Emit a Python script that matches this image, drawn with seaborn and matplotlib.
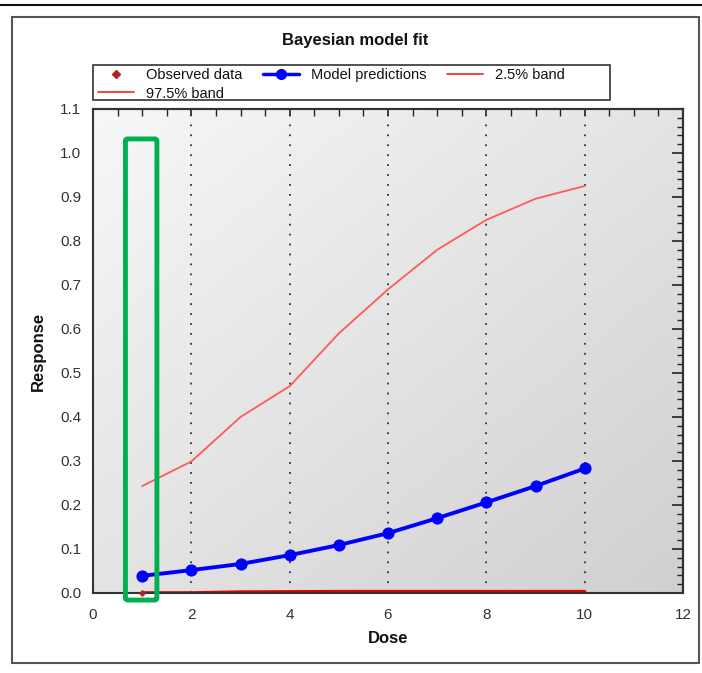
import numpy as np
import pandas as pd
import matplotlib
matplotlib.use("Agg")
import matplotlib.pyplot as plt
import seaborn as sns
from matplotlib.patches import Rectangle, FancyBboxPatch
from matplotlib.lines import Line2D
from matplotlib.ticker import MultipleLocator, NullFormatter

sns.set_theme(style="white")
plt.rcParams['font.family'] = ['Liberation Sans', 'DejaVu Sans']

dose = [1, 2, 3, 4, 5, 6, 7, 8, 9, 10]
model_pred = [0.039, 0.052, 0.066, 0.086, 0.109, 0.136, 0.170, 0.206, 0.243, 0.283]
band_975 = [0.243, 0.299, 0.400, 0.470, 0.590, 0.690, 0.780, 0.848, 0.896, 0.925]
band_025 = [0.0, 0.0, 0.002, 0.0025, 0.003, 0.003, 0.003, 0.003, 0.003, 0.003]
obs_dose = [1]
obs_resp = [0.0]

W, H = 702, 673
fig = plt.figure(figsize=(W / 100, H / 100), dpi=100)
fig.patch.set_facecolor("white")

def px(x0, y0, x1, y1):
    return [x0 / W, 1 - y1 / H, (x1 - x0) / W, (y1 - y0) / H]

ax = fig.add_axes(px(93, 109, 683, 593))

# diagonal gradient background: light top-left, darker bottom-right
gx, gy = np.meshgrid(np.linspace(0, 1, 200), np.linspace(0, 1, 200))
grad = (gx + (1 - gy)) / 2.0
cmap = matplotlib.colors.LinearSegmentedColormap.from_list("g", ["#f7f7f7", "#d0d0d0"])
ax.imshow(grad, cmap=cmap, extent=[0, 12, 0, 1.1], origin="lower", aspect="auto",
          zorder=0, vmin=0, vmax=1)
ax.set_xlim(0, 12)
ax.set_ylim(0, 1.1)

for xv in [2, 4, 6, 8, 10]:
    ax.axvline(xv, color="#333333", linestyle=(0, (1, 4.5)), linewidth=1.3, zorder=1)

df_model = pd.DataFrame({"Dose": dose, "Response": model_pred})
df_975 = pd.DataFrame({"Dose": dose, "Response": band_975})
df_025 = pd.DataFrame({"Dose": dose, "Response": band_025})
df_obs = pd.DataFrame({"Dose": obs_dose, "Response": obs_resp})

sns.lineplot(data=df_975, x="Dose", y="Response", ax=ax, color="#ff5a5a", linewidth=1.3, zorder=3)
sns.lineplot(data=df_025, x="Dose", y="Response", ax=ax, color="#dd0000", linewidth=2.6, zorder=2)
sns.lineplot(data=df_model, x="Dose", y="Response", ax=ax, color="#0000ff", linewidth=2.8,
             marker="o", markersize=8, markeredgecolor="#0000ff", zorder=4)
sns.scatterplot(data=df_obs, x="Dose", y="Response", ax=ax, color="#b22222", marker="D", s=12,
                edgecolor="#b22222", zorder=5, clip_on=False)

ax.set_xticks([0, 2, 4, 6, 8, 10, 12])
ax.set_yticks(np.round(np.arange(0, 1.11, 0.1), 1))
ax.set_yticklabels([f"{v:.1f}" for v in np.arange(0, 1.11, 0.1)])
ax.xaxis.set_minor_locator(MultipleLocator(0.5))
ax.yaxis.set_minor_locator(MultipleLocator(0.02))
ax.tick_params(axis="both", which="major", direction="inout", length=10, width=1.2, color="#222222",
               labelsize=11, labelcolor="#333333", top=False, right=False)
ax.tick_params(axis="both", which="minor", direction="inout", length=6, width=1.0, color="#222222",
               top=False, right=False)
ax.tick_params(axis="x", which="both", pad=6)
for s in ax.spines.values():
    s.set_color("#333333")
    s.set_linewidth(1.5)
    s.set_zorder(2.5)
ax.set_xlabel("Dose", fontsize=12, fontweight="bold", labelpad=6, color="#111111")
ax.set_ylabel("Response", fontsize=12, fontweight="bold", labelpad=10, color="#111111")

# inward ticks on right and top
secy = ax.secondary_yaxis("right")
secy.set_yticks(np.round(np.arange(0, 1.11, 0.1), 1))
secy.yaxis.set_minor_locator(MultipleLocator(0.02))
secy.yaxis.set_major_formatter(NullFormatter())
secy.tick_params(which="major", direction="in", length=8, width=1.2, color="#222222")
secy.tick_params(which="minor", direction="in", length=4, width=1.0, color="#222222")
secy.spines["right"].set_color("#333333")
secy.spines["right"].set_linewidth(1.5)
secx = ax.secondary_xaxis("top")
secx.set_xticks([0, 2, 4, 6, 8, 10, 12])
secx.xaxis.set_minor_locator(MultipleLocator(0.5))
secx.xaxis.set_major_formatter(NullFormatter())
secx.tick_params(which="major", direction="in", length=5, width=1.2, color="#222222")
secx.tick_params(which="minor", direction="in", length=5, width=1.0, color="#222222")
secx.spines["top"].set_color("#333333")
secx.spines["top"].set_linewidth(1.5)

fig.text(355 / W, 1 - 40 / H, "Bayesian model fit", ha="center", va="center",
         fontsize=12, fontweight="bold", color="#111111")

h_obs = Line2D([], [], color="#b22222", marker="D", markersize=4, linestyle="none")
h_model = Line2D([], [], color="#0000ff", marker="o", markersize=7, linewidth=2.5)
h_025 = Line2D([], [], color="#ff3030", linewidth=1.3)
h_975 = Line2D([], [], color="#ff3030", linewidth=1.3)
handles = [h_obs, h_975, h_model, h_025]
labels = ["Observed data", "97.5% band", "Model predictions", "2.5% band"]
leg = fig.legend(handles, labels, loc="upper left",
                 bbox_to_anchor=(94 / W, 1 - 64.5 / H), ncol=3,
                 frameon=False, fontsize=10.5, handlelength=2.5, handletextpad=0.8,
                 columnspacing=1.4, borderpad=0.25, labelspacing=0.3, borderaxespad=0)
for t in leg.get_texts():
    t.set_color("#111111")
# legend frame box
fig.add_artist(Rectangle((93 / W, 1 - 100 / H), (610 - 93) / W, (100 - 65) / H, fill=False,
                         edgecolor="#333333", linewidth=1.2, transform=fig.transFigure))

# outer frames
fig.add_artist(Line2D([0, 1], [1 - 5 / H, 1 - 5 / H], color="#111111", linewidth=1.5))
fig.add_artist(Rectangle((12 / W, 1 - 663 / H), (699 - 12) / W, (663 - 17) / H, fill=False,
                         edgecolor="#555555", linewidth=1.5, transform=fig.transFigure))

# green highlight box
ax.add_patch(FancyBboxPatch((0.66, -0.016), 0.64, 1.048, boxstyle="round,pad=0,rounding_size=0.05",
                            fill=False, edgecolor="#00b050", linewidth=3.5, clip_on=False, zorder=6,
                            mutation_aspect=0.09))

fig.savefig("out.png", dpi=100)
